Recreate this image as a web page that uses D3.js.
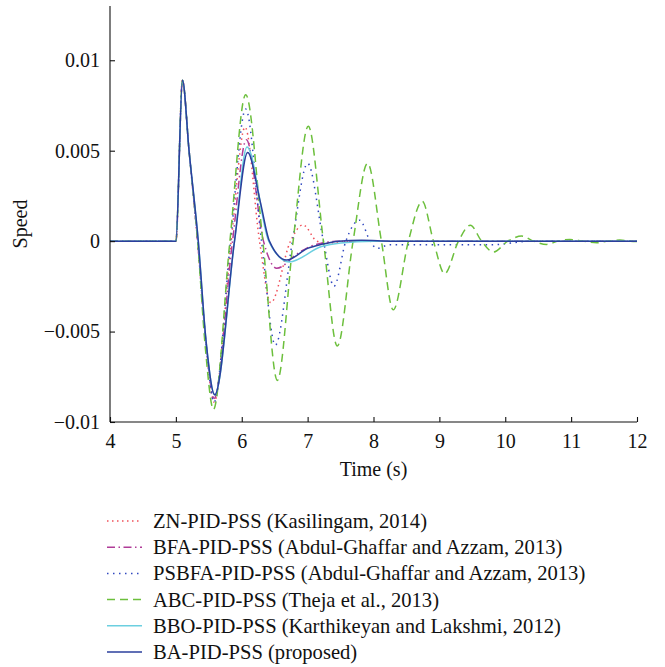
<!DOCTYPE html>
<html>
<head>
<meta charset="utf-8">
<script src="https://cdn.jsdelivr.net/npm/d3@7"></script>
<style>
  body { margin: 0; background: #ffffff; }
</style>
</head>
<body>
<svg id="chart" width="665" height="667"></svg>
<script>
const FONT = "'Liberation Serif', 'Times New Roman', Tinos, 'Noto Serif', 'DejaVu Serif', serif";

// Axis ticks
const xTicks = [4, 5, 6, 7, 8, 9, 10, 11, 12];
const yTicks = [0.01, 0.005, 0, -0.005, -0.01];
const yTickLabels = ["0.01", "0.005", "0", "\u22120.005", "\u22120.01"];

// Series names (legend order)
const seriesNames = [
  "ZN-PID-PSS (Kasilingam, 2014)",
  "BFA-PID-PSS (Abdul-Ghaffar and Azzam, 2013)",
  "PSBFA-PID-PSS (Abdul-Ghaffar and Azzam, 2013)",
  "ABC-PID-PSS (Theja et al., 2013)",
  "BBO-PID-PSS (Karthikeyan and Lakshmi, 2012)",
  "BA-PID-PSS (proposed)"
];

// Speed deviation responses: time (s) and speed
const timeZN  = [4, 5.0, 5.1, 5.2, 5.33, 5.46, 5.58, 5.84, 6.05, 6.27, 6.44, 6.74, 6.93, 7.14, 7.3, 7.6, 12];
const speedZN = [0, 0, 0.0089, 0.005, 0, -0.0058, -0.0089, 0, 0.0063, 0, -0.0034, 0, 0.0009, 0, -0.00012, 0, 0];

const timeBFA  = [4, 5.0, 5.1, 5.2, 5.33, 5.46, 5.58, 5.86, 6.07, 6.33, 6.53, 6.86, 7.11, 7.5, 12];
const speedBFA = [0, 0, 0.0089, 0.005, 0, -0.0057, -0.0087, 0, 0.0056, 0, -0.0015, -0.00065, -0.0002, 0, 0];

const timePSBFA  = [4, 5.0, 5.1, 5.2, 5.33, 5.46, 5.58, 5.83, 6.06, 6.30, 6.51, 6.77, 7.0, 7.24, 7.40, 7.58, 7.79, 7.95, 8.05, 8.25, 9.8, 10.4, 12];
const speedPSBFA = [0, 0, 0.0089, 0.005, 0, -0.0058, -0.0089, 0, 0.0073, 0, -0.00575, 0, 0.0043, 0, -0.0025, 0, 0.00116, 0, -0.0004, -0.0002, -0.0002, 0, 0];

const timeABC  = [4, 5.0, 5.1, 5.2, 5.33, 5.45, 5.57, 5.82, 6.06, 6.32, 6.54, 6.78, 7.01, 7.24, 7.45, 7.69, 7.91, 8.12, 8.30, 8.53, 8.74, 8.91, 9.08, 9.29, 9.47, 9.64, 9.82, 10.04, 10.25, 10.43, 10.63, 10.8, 10.98, 11.18, 11.39, 11.56, 11.74, 11.9, 12];
const speedABC = [0, 0, 0.0089, 0.005, 0, -0.006, -0.0093, 0, 0.0081, 0, -0.0077, 0, 0.00635, 0, -0.0058, 0, 0.0043, 0, -0.0038, 0, 0.0022, 0, -0.0018, 0, 0.00088, 0, -0.0006, 0, 0.00028, 0, -0.00018, 0, 0.00009, 0, -0.00009, 0, 0.00006, 0, -0.00002];

const timeBBO  = [4, 5.0, 5.1, 5.2, 5.34, 5.46, 5.59, 5.89, 6.08, 6.41, 6.72, 7.21, 7.5, 8.0, 12];
const speedBBO = [0, 0, 0.0089, 0.005, 0, -0.0056, -0.0085, 0, 0.0052, 0, -0.00115, -0.0003, -0.0001, 0, 0];

const timeBA  = [4, 5.0, 5.1, 5.2, 5.34, 5.46, 5.59, 5.89, 6.09, 6.28, 6.42, 6.68, 7.0, 7.21, 7.47, 7.82, 8.3, 12];
const speedBA = [0, 0, 0.0089, 0.005, 0, -0.0056, -0.0085, 0, 0.0049, 0.0022, 0, -0.00105, -0.0004, -0.00018, 0, 0.00005, 0, 0];

// Line styles
const lineColors = ["#f0505a", "#b03c98", "#3048c0", "#6cbf3c", "#6ccfe0", "#2b3f9c"];
const lineDashes = ["1.5,3.5", "8,3.5,1.5,3.5", "1.5,4.5", "8,5", null, null];

const series = [
  { t: timeZN, v: speedZN },
  { t: timeBFA, v: speedBFA },
  { t: timePSBFA, v: speedPSBFA },
  { t: timeABC, v: speedABC },
  { t: timeBBO, v: speedBBO },
  { t: timeBA, v: speedBA }
].map((s, i) => ({
  name: seriesNames[i],
  color: lineColors[i],
  dash: lineDashes[i],
  points: s.t.map((t, j) => [t, s.v[j]])
}));

const svg = d3.select("#chart");

const x = d3.scaleLinear().domain([4, 12]).range([110, 637]);
const y = d3.scaleLinear().domain([-0.01, 0.013]).range([422, 6]);

const plot = svg.append("g");

const line = d3.line()
  .x(d => x(d[0]))
  .y(d => y(d[1]))
  .curve(d3.curveMonotoneX);

plot.selectAll("path.series")
  .data(series)
  .join("path")
  .attr("class", "series")
  .attr("d", d => line(d.points))
  .attr("fill", "none")
  .attr("stroke", d => d.color)
  .attr("stroke-width", 1.5)
  .attr("stroke-dasharray", d => d.dash)
  .attr("stroke-linecap", "butt")
  .attr("stroke-linejoin", "round");

// Axes with inward ticks
const xAxis = d3.axisBottom(x).tickValues(xTicks).tickSize(-5).tickPadding(12).tickFormat(d3.format("d"));
const gx = svg.append("g").attr("transform", `translate(0,${y(-0.01)})`).call(xAxis);
gx.select(".domain").attr("d", `M${x(4)},0H${x(12)}`);

const yAxis = d3.axisLeft(y).tickValues(yTicks).tickSize(-5).tickPadding(10)
  .tickFormat((d, i) => yTickLabels[i]);
const gy = svg.append("g").attr("transform", `translate(${x(4)},0)`).call(yAxis);
gy.select(".domain").attr("d", `M0,${y(0.013)}V${y(-0.01)}`);

[gx, gy].forEach(g => {
  g.attr("font-family", null).attr("font-size", null);
  g.selectAll("path, line").attr("stroke", "#111").attr("stroke-width", 1.1);
  g.selectAll("text").attr("fill", "#111");
});

// Axis titles
svg.append("text")
  .attr("x", (x(4) + x(12)) / 2)
  .attr("y", 476)
  .attr("text-anchor", "middle")
  .text("Time (s)");

svg.append("text")
  .attr("transform", `translate(27,224) rotate(-90)`)
  .attr("text-anchor", "middle")
  .text("Speed");

svg.selectAll("text")
  .style("font-family", FONT)
  .style("font-size", "20px")
  .style("fill", "#111");

// Legend
const legend = svg.append("g");
const rows = legend.selectAll("g")
  .data(series)
  .join("g")
  .attr("transform", (d, i) => `translate(0,${521 + i * 26.2})`);

rows.append("line")
  .attr("x1", 107).attr("x2", 142)
  .attr("y1", 0).attr("y2", 0)
  .attr("stroke", d => d.color)
  .attr("stroke-width", 1.5)
  .attr("stroke-dasharray", d => d.dash);

rows.append("text")
  .attr("x", 153)
  .attr("y", 7)
  .style("font-family", FONT)
  .style("font-size", "20.6px")
  .style("fill", "#111")
  .text(d => d.name);
</script>
</body>
</html>
